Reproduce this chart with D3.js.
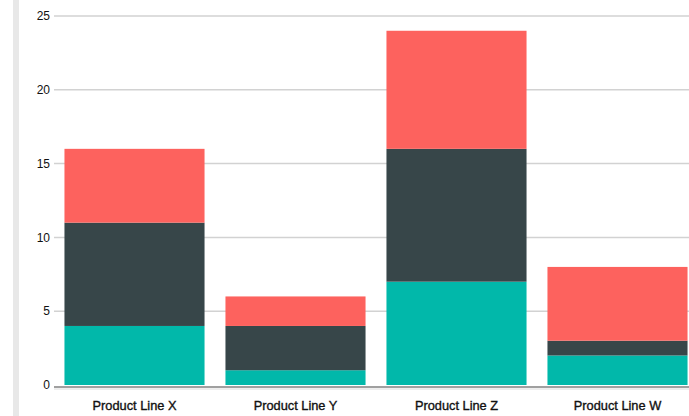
<!DOCTYPE html>
<html><head><meta charset="utf-8">
<script src="https://cdn.jsdelivr.net/npm/d3@7"></script>
<style>html,body{margin:0;padding:0;background:#fff;overflow:hidden}</style>
</head><body>
<svg id="c" width="689" height="416"></svg>
<script>
const categories = ["Product Line X", "Product Line Y", "Product Line Z", "Product Line W"];
const seriesNames = ["S1", "S2", "S3"];
const s1 = [4, 1, 7, 2];
const s2 = [7, 3, 9, 1];
const s3 = [5, 2, 8, 5];
const yTicks = [0, 5, 10, 15, 20, 25];
const colors = ["#01B8AA", "#374649", "#FD625E"];

const svg = d3.select("#c");
svg.append("rect").attr("x", 13).attr("y", 0).attr("width", 6).attr("height", 416).attr("fill", "#e8e8e8");

const y = d3.scaleLinear().domain([0, 25]).range([385, 16]);
const x = d3.scaleBand().domain(categories).range([54, 698]).paddingInner(0.13).paddingOuter(0.065);

const table = categories.map((c, i) => ({cat: c, S1: s1[i], S2: s2[i], S3: s3[i]}));
const stacked = d3.stack().keys(seriesNames)(table);

// grid
svg.append("g").selectAll("line").data(yTicks.filter(t => t > 0)).join("line")
  .attr("x1", 54).attr("x2", 689).attr("y1", d => y(d)).attr("y2", d => y(d))
  .attr("stroke", "#d2d2d2").attr("stroke-width", 1.5);

svg.append("g").selectAll("text").data(yTicks).join("text")
  .attr("x", 50).attr("y", d => y(d)).attr("dy", "0.35em").attr("text-anchor", "end")
  .attr("font-family", "Liberation Sans, Arial, sans-serif").attr("font-size", 12).attr("fill", "#111")
  .text(d => d);

stacked.forEach((layer, k) => {
  svg.append("g").attr("fill", colors[k]).selectAll("rect").data(layer).join("rect")
    .attr("x", d => x(d.data.cat)).attr("width", x.bandwidth())
    .attr("y", d => y(d[1])).attr("height", d => y(d[0]) - y(d[1]));
});

// baseline
svg.append("line").attr("x1", 54).attr("x2", 689).attr("y1", 387).attr("y2", 387)
  .attr("stroke", "#a0a0a0").attr("stroke-width", 2);
svg.append("line").attr("x1", 54).attr("x2", 689).attr("y1", 389).attr("y2", 389)
  .attr("stroke", "#dcdcdc").attr("stroke-width", 1);

svg.append("g").selectAll("text").data(categories).join("text")
  .attr("x", d => x(d) + x.bandwidth() / 2).attr("y", 410).attr("text-anchor", "middle")
  .attr("font-family", "Liberation Sans, Arial, sans-serif").attr("font-size", 12.8)
  .attr("fill", "#111").attr("stroke", "#111").attr("stroke-width", 0.35)
  .text(d => d);
</script>
</body></html>
